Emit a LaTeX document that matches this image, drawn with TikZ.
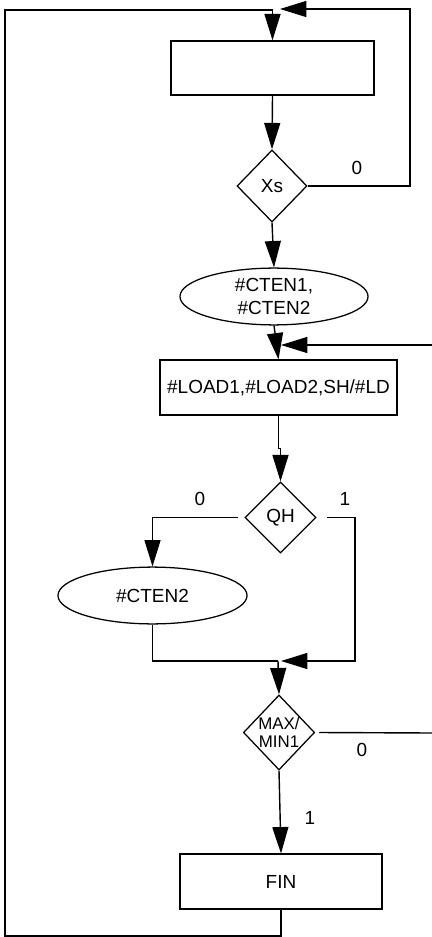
\documentclass[tikz,border=0pt]{standalone}
\usepackage{fontspec}
\setmainfont{Liberation Sans}
\usetikzlibrary{arrows.meta}
\usetikzlibrary{shapes.geometric}
\tikzset{proc/.style = {draw, rectangle, line width = 0.9pt, inner sep = 0, minimum height = 1.37cm}}
\tikzset{cond/.style = {draw, diamond, aspect = 1, line width = 0.9pt, inner sep = 0, minimum width = 1.78cm, minimum height = 1.8cm}}
\tikzset{cnt/.style = {draw, ellipse, line width = 0.9pt, inner sep = 0, minimum width = 4.7cm, minimum height = 1.42cm, align = center}}
\tikzset{flow/.style = {line width = 1pt, -{Triangle[length = 0.66cm, width = 0.4cm]}}}
\tikzset{wire/.style = {line width = 1pt}}

\begin{document}
\begin{tikzpicture}[x = 0.025cm, y = -0.025cm, font = \fontsize{13.5}{16}\selectfont]
      \useasboundingbox (0, 0) rectangle (432, 937);

      \node [proc, minimum width = 5.075cm, minimum height = 1.35cm] (start) at (272.5, 68) {};
      \node [cond, minimum width = 1.75cm] (xs) at (272, 186) {Xs};
      \node [cnt] (ct1) at (274, 296.5) {\#CTEN1,\\\#CTEN2};
      \node [proc, minimum width = 5.925cm] (load) at (278.5, 387.5) {\#LOAD1,\#LOAD2,SH/\#LD};
      \node [cond, minimum width = 1.775cm, minimum height = 1.775cm] (qh) at (280.5, 517.5) {QH};
      \node [cnt, minimum width = 4.725cm] (ct2) at (152.5, 595.5) {\#CTEN2};
      \node [cond, minimum height = 1.875cm,
             label = {[align = center, font = \fontsize{12}{13}\selectfont]center:{MAX/\\MIN1}}] (mm) at (279, 732.5) {};
      \node [proc, minimum width = 5.05cm] (fin) at (281, 881.5) {FIN};

      % branch labels
      \node (xs0) at (357, 168) {0};
      \node (qh0) at (200, 499) {0};
      \node (qh1) at (345, 499) {1};
      \node (mm0) at (362, 750) {0};
      \node (mm1) at (310, 818) {1};

      % turning points
      \coordinate (leftbot) at (5, 936);
      \coordinate (lefttop) at (5, 10);
      \coordinate (xsturn) at (410, 9);
      \coordinate (xsin) at (280, 9);
      \coordinate (backin) at (432, 345);
      \coordinate (backtip) at (281, 345);
      \coordinate (qhturn) at (355, 661);
      \coordinate (jointip) at (281, 661);
      \coordinate (join) at (278, 661);
      \coordinate (mmout) at (432, 733);

      \draw [flow] (fin.south) |- (leftbot) -- (lefttop) -| (start.north);
      \draw [flow] (start.south) -- (xs.north);
      \draw [flow] (xs.east) -| (xsturn) -- (xsin);
      \draw [flow] (xs.south) -- (ct1.north);
      \draw [flow] (ct1.south) -- (load.north);
      \draw [flow] (backin) -- (backtip);
      \draw [flow] (load.south) -- ++(0, 33) -| (qh.north);
      \draw [flow] ([xshift = -0.15cm]qh.west) -| (ct2.north);
      \draw [flow] ([xshift = 0.25cm]qh.east) -| (qhturn) -- (jointip);
      \draw [wire] (ct2.south) |- (join);
      \draw [flow] (join) -- (mm.north);
      \draw [wire] ([xshift = 0.1cm]mm.east) -- (mmout);
      \draw [flow] (mm.south) -- (fin.north);
\end{tikzpicture}
\end{document}
